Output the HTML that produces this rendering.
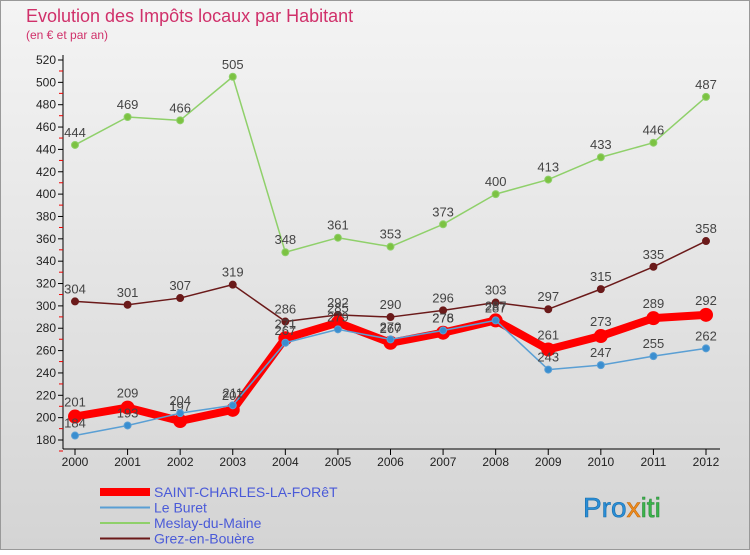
<!DOCTYPE html>
<html><head><meta charset="utf-8"><style>
body{margin:0;width:750px;height:550px;overflow:hidden;font-family:"Liberation Sans",sans-serif}
svg text{font-family:"Liberation Sans",sans-serif}
</style></head><body>
<svg id="c" width="750" height="550">
<defs><linearGradient id="bg" x1="0" y1="0" x2="0" y2="1"><stop offset="0" stop-color="#f4f4f4"/><stop offset="1" stop-color="#d4d4d4"/></linearGradient></defs>
<rect x="0.5" y="0.5" width="749" height="549" fill="url(#bg)" stroke="#999"/>
<text x="26" y="22" font-size="18" fill="#d0306a">Evolution des Impôts locaux par Habitant</text>
<text x="26" y="39" font-size="12" fill="#d0306a">(en € et par an)</text>
<g id="axes"></g><g id="series"></g><g id="legend"></g>
<text x="583" y="517" font-size="28" fill="#2a8ed8" stroke="#1a6ea8" stroke-width="0.6">Pro<tspan fill="#f08c1c" stroke="#c06a10">x</tspan><tspan fill="#3ab54a" stroke="#2a8a3a">iti</tspan></text>
</svg>
<script>
const years=["2000","2001","2002","2003","2004","2005","2006","2007","2008","2009","2010","2011","2012"];
const yTicks=[180,200,220,240,260,280,300,320,340,360,380,400,420,440,460,480,500,520];
const sclf=[201,209,197,207,271,285,267,276,287,261,273,289,292];
const buret=[184,193,204,211,267,279,270,278,287,243,247,255,262];
const meslay=[444,469,466,505,348,361,353,373,400,413,433,446,487];
const grez=[304,301,307,319,286,292,290,296,303,297,315,335,358];
const NS="http://www.w3.org/2000/svg";
const xs=i=>75+i*(706-75)/12, ys=v=>440-(v-180)*380/340;
function mk(t,a,p){const e=document.createElementNS(NS,t);for(const k in a)e.setAttribute(k,a[k]);p.appendChild(e);return e;}
const ax=document.getElementById('axes');
let l=mk('line',{x1:63,y1:55,x2:63,y2:449,stroke:'#000'},ax);

l=mk('line',{x1:63,y1:449,x2:720,y2:449,stroke:'#000'},ax);

yTicks.forEach(v=>{const y=ys(v);
 mk('line',{x1:58,y1:y,x2:63,y2:y,stroke:'#000'},ax);
 mk('line',{x1:59,y1:y+11,x2:63,y2:y+11,stroke:'#e00'},ax);
 const t=mk('text',{x:56,y:y+4,'font-size':12,'text-anchor':'end',fill:'#222'},ax);t.textContent=v;
 });
years.forEach((yr,i)=>{const x=xs(i);
 mk('line',{x1:x,y1:449,x2:x,y2:455,stroke:'#000'},ax);
 const t=mk('text',{x:x,y:466,'font-size':12,'text-anchor':'middle',fill:'#222'},ax);t.textContent=yr;
 });
const sg=document.getElementById('series');
function draw(d,name,col,w,r,mcol,lblOff){
 const g=mk('g',{},sg);
 const p=mk('polyline',{points:d.map((v,i)=>xs(i)+','+ys(v)).join(' '),fill:'none',stroke:col,'stroke-width':w,'stroke-linejoin':'round'},g);
 
 d.forEach((v,i)=>{const c=mk('circle',{cx:xs(i),cy:ys(v),r:r,fill:mcol,stroke:col,'stroke-width':1},g);
  
  const t=mk('text',{x:xs(i),y:ys(v)-lblOff,'font-size':13,'text-anchor':'middle',fill:'#444'},g);t.textContent=v;
  });
}
draw(meslay,'meslay-du-maine','#8fd06a',1.5,3.5,'#7cc242',8);
draw(grez,'grez-en-bouere','#6b1a1a',1.5,3.5,'#6b1a1a',8);
draw(sclf,'saint-charles-la-foret','#ff0000',8,6.5,'#ff0000',10);
draw(buret,'le-buret','#5a9fd4',1.5,3.5,'#3a8ed0',8);
const lg=document.getElementById('legend');
[['SAINT-CHARLES-LA-FORêT','#ff0000',8],['Le Buret','#5a9fd4',2],['Meslay-du-Maine','#8fd06a',2],['Grez-en-Bouère','#6b1a1a',2]].forEach((e,i)=>{
 const y=492+i*15.5;const g=mk('g',{},lg);
 mk('line',{x1:100,y1:y,x2:150,y2:y,stroke:e[1],'stroke-width':e[2]},g);
 const t=mk('text',{x:154,y:y+5,'font-size':14,fill:'#4a5ad8'},g);t.textContent=e[0];});
</script>
</body></html>
